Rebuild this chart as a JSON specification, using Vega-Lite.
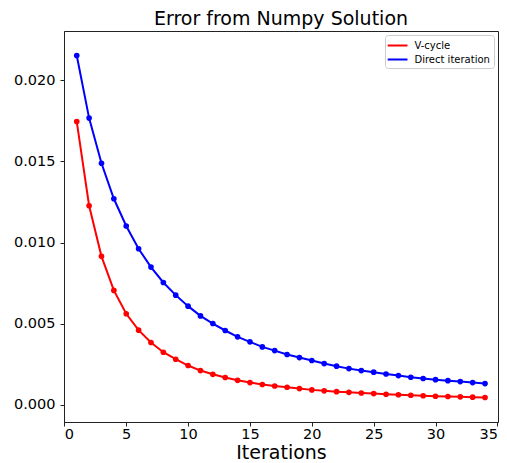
{
  "$schema": "https://vega.github.io/schema/vega-lite/v6.json",
  "autosize": {"type": "none"},
  "padding": {"left": 64, "top": 31, "right": 9, "bottom": 41},
  "width": 434,
  "height": 391,
  "background": "white",
  "title": {"text": "Error from Numpy Solution", "font": "DejaVu Sans", "fontSize": 19, "fontWeight": "normal", "color": "black", "offset": 2},
  "config": {
    "view": {"stroke": "#222", "strokeWidth": 1},
    "axis": {"grid": false, "labelFont": "DejaVu Sans", "labelFontSize": 14.5, "labelColor": "black", "domainColor": "#222", "tickColor": "#222", "tickSize": 4, "titleFont": "DejaVu Sans", "titleFontWeight": "normal", "titleColor": "black"}
  },
  "data": {"values": [
    {"it": 1, "err": 0.02153, "method": "Direct iteration"},
    {"it": 2, "err": 0.01767, "method": "Direct iteration"},
    {"it": 3, "err": 0.01489, "method": "Direct iteration"},
    {"it": 4, "err": 0.01270, "method": "Direct iteration"},
    {"it": 5, "err": 0.01102, "method": "Direct iteration"},
    {"it": 6, "err": 0.00962, "method": "Direct iteration"},
    {"it": 7, "err": 0.00849, "method": "Direct iteration"},
    {"it": 8, "err": 0.00754, "method": "Direct iteration"},
    {"it": 9, "err": 0.00676, "method": "Direct iteration"},
    {"it": 10, "err": 0.00608, "method": "Direct iteration"},
    {"it": 11, "err": 0.00548, "method": "Direct iteration"},
    {"it": 12, "err": 0.00501, "method": "Direct iteration"},
    {"it": 13, "err": 0.00458, "method": "Direct iteration"},
    {"it": 14, "err": 0.00419, "method": "Direct iteration"},
    {"it": 15, "err": 0.00388, "method": "Direct iteration"},
    {"it": 16, "err": 0.00357, "method": "Direct iteration"},
    {"it": 17, "err": 0.00334, "method": "Direct iteration"},
    {"it": 18, "err": 0.00310, "method": "Direct iteration"},
    {"it": 19, "err": 0.00291, "method": "Direct iteration"},
    {"it": 20, "err": 0.00273, "method": "Direct iteration"},
    {"it": 21, "err": 0.00254, "method": "Direct iteration"},
    {"it": 22, "err": 0.00238, "method": "Direct iteration"},
    {"it": 23, "err": 0.00223, "method": "Direct iteration"},
    {"it": 24, "err": 0.00211, "method": "Direct iteration"},
    {"it": 25, "err": 0.00201, "method": "Direct iteration"},
    {"it": 26, "err": 0.00190, "method": "Direct iteration"},
    {"it": 27, "err": 0.00180, "method": "Direct iteration"},
    {"it": 28, "err": 0.00170, "method": "Direct iteration"},
    {"it": 29, "err": 0.00162, "method": "Direct iteration"},
    {"it": 30, "err": 0.00155, "method": "Direct iteration"},
    {"it": 31, "err": 0.00149, "method": "Direct iteration"},
    {"it": 32, "err": 0.00143, "method": "Direct iteration"},
    {"it": 33, "err": 0.00137, "method": "Direct iteration"},
    {"it": 34, "err": 0.00131, "method": "Direct iteration"},
    {"it": 1, "err": 0.01746, "method": "V-cycle"},
    {"it": 2, "err": 0.01227, "method": "V-cycle"},
    {"it": 3, "err": 0.00915, "method": "V-cycle"},
    {"it": 4, "err": 0.00705, "method": "V-cycle"},
    {"it": 5, "err": 0.00561, "method": "V-cycle"},
    {"it": 6, "err": 0.00460, "method": "V-cycle"},
    {"it": 7, "err": 0.00384, "method": "V-cycle"},
    {"it": 8, "err": 0.00324, "method": "V-cycle"},
    {"it": 9, "err": 0.00281, "method": "V-cycle"},
    {"it": 10, "err": 0.00242, "method": "V-cycle"},
    {"it": 11, "err": 0.00211, "method": "V-cycle"},
    {"it": 12, "err": 0.00188, "method": "V-cycle"},
    {"it": 13, "err": 0.00168, "method": "V-cycle"},
    {"it": 14, "err": 0.00151, "method": "V-cycle"},
    {"it": 15, "err": 0.00137, "method": "V-cycle"},
    {"it": 16, "err": 0.00125, "method": "V-cycle"},
    {"it": 17, "err": 0.00116, "method": "V-cycle"},
    {"it": 18, "err": 0.00108, "method": "V-cycle"},
    {"it": 19, "err": 0.00100, "method": "V-cycle"},
    {"it": 20, "err": 0.00092, "method": "V-cycle"},
    {"it": 21, "err": 0.00086, "method": "V-cycle"},
    {"it": 22, "err": 0.00081, "method": "V-cycle"},
    {"it": 23, "err": 0.00077, "method": "V-cycle"},
    {"it": 24, "err": 0.00073, "method": "V-cycle"},
    {"it": 25, "err": 0.00069, "method": "V-cycle"},
    {"it": 26, "err": 0.00065, "method": "V-cycle"},
    {"it": 27, "err": 0.00062, "method": "V-cycle"},
    {"it": 28, "err": 0.00059, "method": "V-cycle"},
    {"it": 29, "err": 0.00056, "method": "V-cycle"},
    {"it": 30, "err": 0.00053, "method": "V-cycle"},
    {"it": 31, "err": 0.00051, "method": "V-cycle"},
    {"it": 32, "err": 0.00049, "method": "V-cycle"},
    {"it": 33, "err": 0.00047, "method": "V-cycle"},
    {"it": 34, "err": 0.00045, "method": "V-cycle"}
  ]},
  "mark": {"type": "line", "strokeWidth": 2, "point": {"filled": true, "size": 32, "opacity": 1}},
  "encoding": {
    "x": {"field": "it", "type": "quantitative",
      "scale": {"domain": [-0.03, 35.05], "nice": false, "zero": false},
      "axis": {"values": [0, 5, 10, 15, 20, 25, 30, 35], "title": "Iterations", "titleFontSize": 19, "titlePadding": 2, "labelPadding": 1.5}},
    "y": {"field": "err", "type": "quantitative",
      "scale": {"domain": [-0.00106, 0.02304], "nice": false, "zero": false},
      "axis": {"values": [0, 0.005, 0.01, 0.015, 0.02], "format": ".3f", "title": null, "labelPadding": 5}},
    "color": {"field": "method", "type": "nominal",
      "scale": {"domain": ["V-cycle", "Direct iteration"], "range": ["#ff0000", "#0000ff"]},
      "legend": {"orient": "top-right", "title": null, "offset": 4, "symbolType": "M-1.3,0H2.0", "symbolStrokeWidth": 2, "symbolSize": 144, "symbolFillColor": "transparent", "labelFont": "DejaVu Sans", "labelFontSize": 10, "labelColor": "black", "padding": 3.5, "strokeColor": "#cccccc", "fillColor": "white", "cornerRadius": 3, "rowPadding": 2, "labelOffset": 12}}
  }
}
